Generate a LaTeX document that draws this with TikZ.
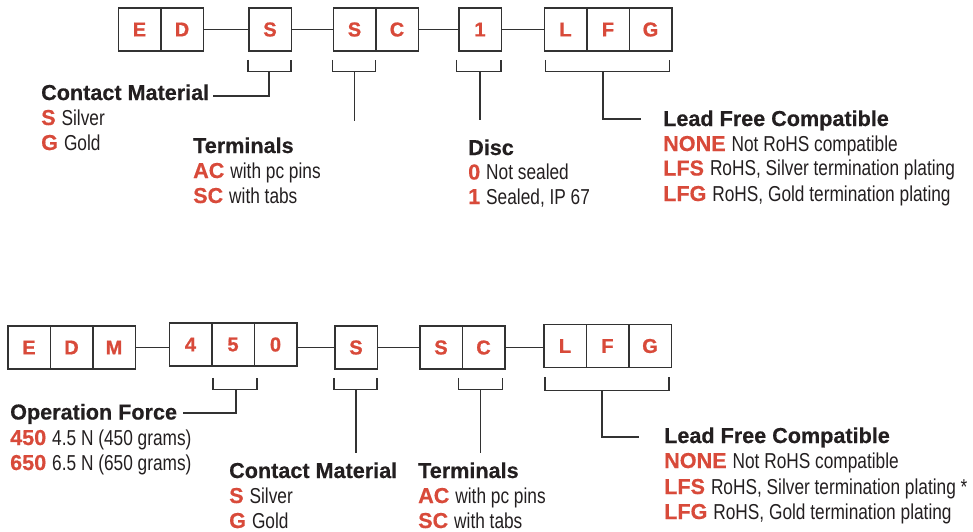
\documentclass[tikz,border=0pt]{standalone}
\usepackage{fontspec}
\setmainfont{Liberation Sans}
\newfontfamily\condf[FakeStretch=0.80]{Liberation Sans}
\newfontfamily\heavyf[BoldFeatures={FakeBold=1.0}]{Liberation Sans}
\newfontfamily\semif[BoldFeatures={FakeBold=0.5}]{Liberation Sans}
\definecolor{cred}{RGB}{216,74,58}
\definecolor{ink}{RGB}{35,31,32}
\definecolor{lin}{RGB}{50,50,50}
\newcommand\mhd[1]{{\semif\bfseries #1}}
\newcommand\mcd[1]{{\semif\bfseries\color{cred}#1}}
\newcommand\mds[1]{{\condf #1}}
\begin{document}
\begin{tikzpicture}[x=1pt,y=-1pt,
  cell/.style={draw=lin, line width=1.5pt, minimum width=42.5pt, minimum height=43pt, inner sep=0pt, text=cred, font=\fontsize{20}{20}\heavyf\bfseries},
  lbl/.style={anchor=base west, inner sep=0pt, text=ink, font=\fontsize{21.6}{21.6}\selectfont},
  wire/.style={draw=lin, line width=1.4pt},
]
\useasboundingbox (0,0) rectangle (973,531);

% ---------- top row ----------
\node[cell] (tE) at (139.5,29.5) {E};
\node[cell] (tD) at (182,29.5) {D};
\node[cell] (tS) at (270,29.5) {S};
\node[cell] (tS2) at (354.5,29.5) {S};
\node[cell] (tC) at (397,29.5) {C};
\node[cell] (t1) at (480,29.5) {1};
\node[cell] (tL) at (565.5,29.5) {L};
\node[cell] (tF) at (608,29.5) {F};
\node[cell] (tG) at (650.5,29.5) {G};

\draw[wire] (tD.east) -- (tS.west |- tD.east);
\draw[wire] (tS.east) -- (tS2.west |- tS.east);
\draw[wire] (tC.east) -- (t1.west |- tC.east);
\draw[wire] (t1.east) -- (tL.west |- t1.east);

% brackets top
\draw[wire] ([yshift=-8pt]tS.south west) -- ++(0,12) -| ([xshift=-1pt,yshift=-8pt]tS.south east);
\draw[wire] ([yshift=-8pt]tS2.south west) -- ++(0,12) -| ([xshift=-1pt,yshift=-8pt]tS2.south east);
\draw[wire] ([xshift=-1.5pt,yshift=-8pt]t1.south west) -- ++(0,12) -| ([xshift=-1pt,yshift=-8pt]t1.south east);
\draw[wire] ([xshift=2pt,yshift=-8pt]tL.south west) -- ++(0,12) -| ([xshift=-3pt,yshift=-8pt]tG.south east);

% labels top
\node[lbl] (cmT) at (41,100) {\mhd{Contact Material}};
\node[lbl] (cm1) at (41,125) {\mcd{S} \mds{Silver}};
\node[lbl] (cm2) at (41,150) {\mcd{G} \mds{Gold}};
\node[lbl] (teT) at (193,153) {\mhd{Terminals}};
\node[lbl] (te1) at (193,178) {\mcd{AC} \mds{with pc pins}};
\node[lbl] (te2) at (193,203) {\mcd{SC} \mds{with tabs}};
\node[lbl] (diT) at (468,155) {\mhd{Disc}};
\node[lbl] (di1) at (468,179.5) {\mcd{0} \mds{Not sealed}};
\node[lbl] (di2) at (468,204) {\mcd{1} \mds{Sealed, IP 67}};
\node[lbl] (lfT) at (663,126) {\mhd{Lead Free Compatible}};
\node[lbl] (lf1) at (663,151) {\mcd{NONE} \mds{Not RoHS compatible}};
\node[lbl] (lf2) at (663,175.5) {\mcd{LFS} \mds{RoHS, Silver termination plating}};
\node[lbl] (lf3) at (663,201) {\mcd{LFG} \mds{RoHS, Gold termination plating}};

% stems top
\coordinate (cmEnd) at ([xshift=4pt,yshift=4pt]cmT.base east);
\coordinate (tSend) at ([yshift=-69pt]tS2.south);
\coordinate (dEnd) at ([yshift=-68pt]t1.south);
\coordinate (lfEnd) at ([xshift=-22pt,yshift=7pt]lfT.base west);
\draw[wire] ([xshift=-1pt,yshift=-20pt]tS.south) |- (cmEnd);
\draw[wire] ([yshift=-20pt]tS2.south) -- (tSend);
\draw[wire] ([yshift=-20pt]t1.south) -- (dEnd);
\draw[wire] ([xshift=-5pt,yshift=-20pt]tF.south) |- (lfEnd);

% ---------- bottom row ----------
\node[cell] (bE) at (29,347.5) {E};
\node[cell] (bD) at (71.5,347.5) {D};
\node[cell] (bM) at (114,347.5) {M};
\node[cell] (b4) at (190.5,344.5) {4};
\node[cell] (b5) at (233,344.5) {5};
\node[cell] (b0) at (275.5,344.5) {0};
\node[cell] (bS) at (356,347.5) {S};
\node[cell] (bS2) at (441,347.5) {S};
\node[cell] (bC) at (483.5,347.5) {C};
\node[cell] (bL) at (565,346) {L};
\node[cell] (bF) at (607.5,346) {F};
\node[cell] (bG) at (650,346) {G};

\draw[wire] (bM.east) -- (b4.west |- bM.east);
\draw[wire] (b0.east |- bS.west) -- (bS.west);
\draw[wire] (bS.east) -- (bS2.west |- bS.east);
\draw[wire] (bC.east) -- (bL.west |- bC.east);

% brackets bottom
\draw[wire] ([xshift=2pt,yshift=-11pt]b5.south west) -- ++(0,12) -| ([xshift=2pt,yshift=-11pt]b5.south east);
\draw[wire] ([yshift=-8pt]bS.south west) -- ++(0,12) -| ([xshift=-1pt,yshift=-8pt]bS.south east);
\draw[wire] ([xshift=-3pt,yshift=-8pt]bC.south west) -- ++(0,12) -| ([xshift=-3pt,yshift=-8pt]bC.south east);
\draw[wire] ([xshift=2pt,yshift=-8.5pt]bL.south west) -- ++(0,13.5) -| ([xshift=-3pt,yshift=-8.5pt]bG.south east);

% labels bottom
\node[lbl] (ofT) at (10,419.5) {\mhd{Operation Force}};
\node[lbl] (of1) at (10,445) {\mcd{450} \mds{4.5 N (450 grams)}};
\node[lbl] (of2) at (10,470) {\mcd{650} \mds{6.5 N (650 grams)}};
\node[lbl] (cbT) at (229,478) {\mhd{Contact Material}};
\node[lbl] (cb1) at (229,503) {\mcd{S} \mds{Silver}};
\node[lbl] (cb2) at (229,528) {\mcd{G} \mds{Gold}};
\node[lbl] (tbT) at (418,478) {\mhd{Terminals}};
\node[lbl] (tb1) at (418,503) {\mcd{AC} \mds{with pc pins}};
\node[lbl] (tb2) at (418,528) {\mcd{SC} \mds{with tabs}};
\node[lbl] (lbT) at (664,443) {\mhd{Lead Free Compatible}};
\node[lbl] (lb1) at (664,468) {\mcd{NONE} \mds{Not RoHS compatible}};
\node[lbl] (lb2) at (664,494) {\mcd{LFS} \mds{RoHS, Silver termination plating *}};
\node[lbl] (lb3) at (664,519) {\mcd{LFG} \mds{RoHS, Gold termination plating}};

% stems bottom
\coordinate (ofEnd) at ([xshift=6pt,yshift=6.5pt]ofT.base east);
\coordinate (bsEnd) at ([yshift=-83pt]bS.south);
\coordinate (bcEnd) at ([xshift=-3pt,yshift=-83pt]bC.south);
\coordinate (lbEnd) at ([xshift=-25pt,yshift=6pt]lbT.base west);
\draw[wire] ([xshift=3pt,yshift=-23pt]b5.south) |- (ofEnd);
\draw[wire] ([yshift=-20pt]bS.south) -- (bsEnd);
\draw[wire] ([xshift=-3pt,yshift=-20pt]bC.south) -- (bcEnd);
\draw[wire] ([xshift=-5.5pt,yshift=-22pt]bF.south) |- (lbEnd);
\end{tikzpicture}
\end{document}
